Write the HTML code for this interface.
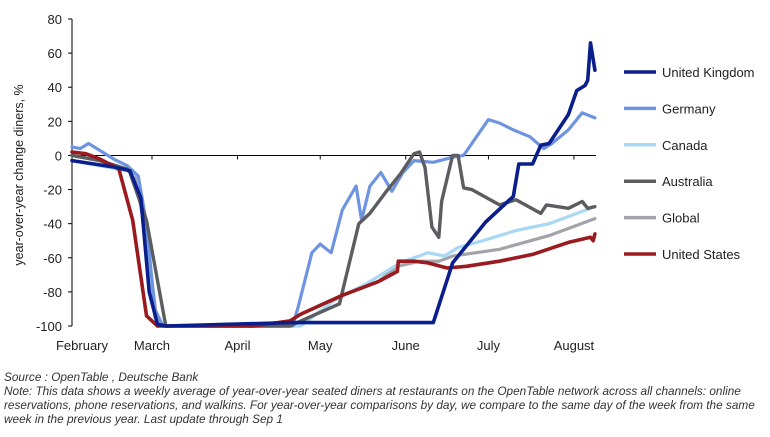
<!DOCTYPE html>
<html><head><meta charset="utf-8">
<style>
body{margin:0;background:#fff;width:770px;height:432px;overflow:hidden;font-family:"Liberation Sans",sans-serif;}
svg text{font-family:"Liberation Sans",sans-serif;}
</style></head>
<body>
<svg id="chart" width="770" height="432" viewBox="0 0 770 432" xmlns="http://www.w3.org/2000/svg">
<g id="grid"></g>
<g id="series"></g>
<g id="legend"></g>
<text transform="translate(23,175) rotate(-90)" text-anchor="middle" font-size="12.5" fill="#222">year-over-year change diners, %</text>
<g font-size="11.8" font-style="italic" fill="#333">
<text x="4" y="381">Source : OpenTable , Deutsche Bank</text>
<text x="4" y="395">Note: This data shows a weekly average of year-over-year seated diners at restaurants on the OpenTable network across all channels: online</text>
<text x="4" y="409">reservations, phone reservations, and walkins. For year-over-year comparisons by day, we compare to the same day of the week from the same</text>
<text x="4" y="423">week in the previous year. Last update through Sep 1</text>
</g>
</svg>
<script>
const months = ["February","March","April","May","June","July","August"];
const monthDays = [0,29,60,90,121,151,182];
const yTicks = [80,60,40,20,0,-20,-40,-60,-80,-100];
const seriesNames = ["United Kingdom","Germany","Canada","Australia","Global","United States"];
const ukDays = [0,8,16,21,25,28,31,34,80,130,131,138,150,160,162,167,170,173,180,183,186,187,188,189.6];
const ukVals = [-3,-5,-7,-9,-25,-80,-99,-100,-98,-98,-98,-63,-39,-24,-5,-5,6,7,24,38,41,44,66,50];
const deDays = [0,3,6,10,15,20,24,27,30,33,80,82,87,90,94,98,103,105,108,112,116,120,124,131,138,142,151,155,160,166,171,174,180,185,189.6];
const deVals = [5,4,7,3,-2,-6,-12,-40,-90,-100,-100,-89,-57,-52,-57,-32,-18,-38,-18,-10,-21,-10,-3,-4,-1,0,21,19,15,11,4,7,15,25,22];
const caDays = [0,10,20,24,27,30,33,80,83,95,107,119,129,135,140,149,161,173,189.6];
const caVals = [-3,-6,-9,-12,-50,-95,-100,-100,-100,-85,-75,-63,-57,-59,-54,-50,-44,-40,-30];
const auDays = [0,10,20,21,27,34,79,83,97,104,108,114,119,124,126,128,130.5,133,134,138,140,142,145,155,161,170,172,180,185,187,189.6];
const auVals = [0,-3,-8,-10,-38,-100,-100,-97,-87,-40,-34,-21,-11,1,2,-7,-42,-48,-27,0,0,-19,-20,-29,-26,-34,-29,-31,-27,-31,-30];
const glDays = [0,10,20,23,28,31,66,79,83,98,111,118,126,133,138,155,173,189.6];
const glVals = [0,-3,-8,-11,-60,-100,-100,-97,-93,-82,-74,-65,-62,-62,-59,-55,-47,-37];
const usDays = [0,5,10,17,22,27,31,66,79,83,98,111,118,118.3,124,129,136,143,155,167,180,188,189,189.6];
const usVals = [2,1,-2,-8,-38,-94,-100,-100,-97,-93,-82,-74,-68,-62,-62,-63,-66,-65,-62,-58,-51,-48,-50,-46];
const seriesDays = [ukDays,deDays,caDays,auDays,glDays,usDays];
const seriesVals = [ukVals,deVals,caVals,auVals,glVals,usVals];
const colors = ["#0a1e8c","#6e93e0","#a8d8f4","#5c5d60","#a3a3aa","#9a1b1f"];
const widths = [3.6,3.2,3.2,3.4,3.2,3.6];
const drawOrder = [4,2,1,3,5,0];

const NS="http://www.w3.org/2000/svg";
const X0=72,X1=596,Y0=19,Y1=326,DMAX=190;
const xs=d=>X0+(d/DMAX)*(X1-X0);
const ys=v=>Y0+(80-v)/180*(Y1-Y0);
function mk(tag,attrs,parent){const e=document.createElementNS(NS,tag);for(const k in attrs)e.setAttribute(k,attrs[k]);parent.appendChild(e);return e;}
const grid=document.getElementById('grid'),ser=document.getElementById('series'),leg=document.getElementById('legend');

const yAxis=mk('line',{x1:X0,x2:X0,y1:Y0,y2:Y1,stroke:'#000','stroke-width':1},grid);


yTicks.forEach(v=>{
  const t=mk('line',{x1:X0-4,x2:X0,y1:ys(v),y2:ys(v),stroke:'#000'},grid);
  
  
  const l=mk('text',{x:X0-10,y:ys(v)+5,'text-anchor':'end','font-size':13,fill:'#222'},grid);
  l.textContent=v;
  
  
});
const zl=mk('line',{x1:X0,x2:X1,y1:ys(0),y2:ys(0),stroke:'#000'},grid);


months.forEach((m,i)=>{
  const d=monthDays[i];
  if(i>0){const t=mk('line',{x1:xs(d),x2:xs(d),y1:ys(0),y2:ys(0)+4,stroke:'#000'},grid);
  
  }
  const lx=i==0?X0+10:xs(d);
  const l=mk('text',{x:lx,y:350,'text-anchor':'middle','font-size':13,fill:'#222'},grid);
  l.textContent=m;
  
  
});
drawOrder.forEach(i=>{
  const pts=seriesDays[i].map((d,j)=>xs(d).toFixed(1)+','+ys(seriesVals[i][j]).toFixed(1)).join(' ');
  const p=mk('polyline',{points:pts,fill:'none',stroke:colors[i],'stroke-width':widths[i],'stroke-linejoin':'round','stroke-linecap':'round'},ser);
  
  
});
seriesNames.forEach((n,i)=>{
  const y=72+i*36.4;
  const g=mk('g',{},leg);
  
  
  mk('line',{x1:624,x2:656,y1:y,y2:y,stroke:colors[i],'stroke-width':3.5},g);
  const t=mk('text',{x:662,y:y+5,'font-size':13,fill:'#222'},g);
  t.textContent=n;
});
</script>
</body></html>
